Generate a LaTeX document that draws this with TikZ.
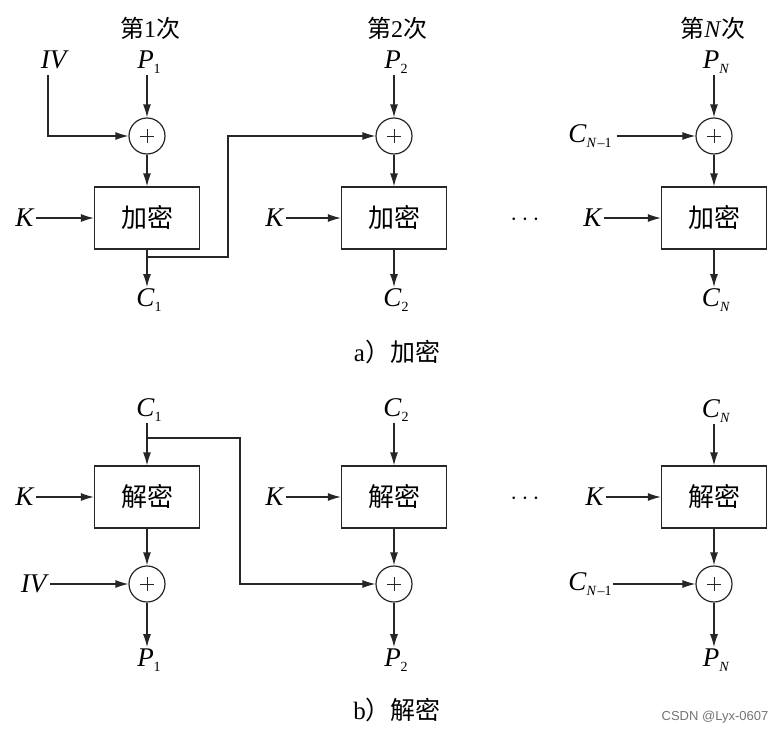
\documentclass[tikz,border=0pt]{standalone}
\usepackage{fontspec}
\setmainfont{Liberation Serif}
\newfontfamily\cjk{Noto Sans CJK SC}
\newfontfamily\wmfont{Liberation Sans}
\usetikzlibrary{arrows.meta}
\newcommand{\lb}[2]{\textit{#1}\raisebox{-0.45ex}{\fontsize{14}{14}\selectfont #2}}
\begin{document}
\begin{tikzpicture}[x=1pt,y=-1pt,
  ln/.style={line width=1.2pt,draw=black!85},
  arr/.style={ln,-{Latex[length=13pt,width=8pt]}},
  lab/.style={inner sep=1pt,font=\fontsize{27}{27}\selectfont},
  ttl/.style={inner sep=1pt,font=\fontsize{24}{24}\selectfont\cjk},
  captxt/.style={inner sep=1pt,font=\fontsize{25}{25}\selectfont},
  blk/.style={ln,rectangle,minimum width=105pt,minimum height=62pt,inner sep=0pt,font=\fontsize{26}{26}\selectfont\cjk},
  xr/.style={ln,circle,minimum size=36pt,inner sep=0pt,
    path picture={\draw[line width=0.6pt] ([xshift=-7pt]path picture bounding box.center) -- ([xshift=7pt]path picture bounding box.center);
                  \draw[line width=0.6pt] ([yshift=-7pt]path picture bounding box.center) -- ([yshift=7pt]path picture bounding box.center);}},
]
\useasboundingbox (0,0) rectangle (780,736);
% ---------------- encryption ----------------
\node[ttl] (t1) at (150,28) {第\fontspec{Liberation Serif}1\cjk 次};
\node[ttl] (t2) at (397,28) {第\fontspec{Liberation Serif}2\cjk 次};
\node[ttl] (tN) at (713,28) {第\fontspec{Liberation Serif}\textit{N}\cjk 次};

\node[lab] (iv) at (55,60) {\textit{IV}};
\coordinate (ivs) at (48,75);
\node[lab] (p1) at (149,62) {\lb{P}{1}};
\node[lab] (p2) at (396,62) {\lb{P}{2}};
\node[lab] (pN) at (716,62) {\lb{P}{\textit{N}}};

\node[xr] (x1) at (147,136) {};
\node[xr] (x2) at (394,136) {};
\node[xr] (xN) at (714,136) {};

\node[blk] (e1) at (147,218) {加密};
\node[blk] (e2) at (394,218) {加密};
\node[blk] (eN) at (714,218) {加密};

\node[lab] (k1) at (25,218) {\textit{K}};
\node[lab] (k2) at (275,218) {\textit{K}};
\node[lab] (kN) at (593,218) {\textit{K}};
\node[lab] (dA) at (525,220) {$\cdots$};

\node[lab] (cm1) at (590,136) {\lb{C}{\textit{N}\kern1pt–1}};

\node[lab] (c1) at (149,300) {\lb{C}{1}};
\node[lab] (c2) at (396,300) {\lb{C}{2}};
\node[lab] (cN) at (716,300) {\lb{C}{\textit{N}}};

\coordinate (s1) at (147,257);

\draw[arr] (x1 |- p1.south) -- (x1);
\draw[arr] (x2 |- p2.south) -- (x2);
\draw[arr] (xN |- pN.south) -- (xN);
\draw[arr] (ivs) |- (x1.west);
\draw[arr] (cm1.east) ++(4,0) -- (xN.west);
\draw[arr] (x1) -- (e1);
\draw[arr] (x2) -- (e2);
\draw[arr] (xN) -- (eN);
\draw[arr] (k1) -- (k1 -| e1.west);
\draw[arr] (k2) -- (k2 -| e2.west);
\draw[arr] (kN) -- (kN -| eN.west);
\draw[arr] (e1) -- (e1 |- c1.north);
\draw[arr] (e2) -- (e2 |- c2.north);
\draw[arr] (eN) -- (eN |- cN.north);
\draw[arr] (s1) -- ++(81,0) |- (x2.west);

\node[captxt] (capa) at (397,352) {a{\cjk ）加密}};

% ---------------- decryption ----------------
\node[lab] (dc1) at (149,410) {\lb{C}{1}};
\node[lab] (dc2) at (396,410) {\lb{C}{2}};
\node[lab] (dcN) at (716,411) {\lb{C}{\textit{N}}};

\node[blk] (d1) at (147,497) {解密};
\node[blk] (d2) at (394,497) {解密};
\node[blk] (dN) at (714,497) {解密};

\node[lab] (dk1) at (25,497) {\textit{K}};
\node[lab] (dk2) at (275,497) {\textit{K}};
\node[lab] (dkN) at (595,497) {\textit{K}};
\node[lab] (dB) at (525,499) {$\cdots$};

\node[xr] (y1) at (147,584) {};
\node[xr] (y2) at (394,584) {};
\node[xr] (yN) at (714,584) {};

\node[lab] (div) at (35,584) {\textit{IV}};
\node[lab] (dcm1) at (590,584) {\lb{C}{\textit{N}\kern1pt–1}};

\node[lab] (dp1) at (149,660) {\lb{P}{1}};
\node[lab] (dp2) at (396,660) {\lb{P}{2}};
\node[lab] (dpN) at (716,660) {\lb{P}{\textit{N}}};

\coordinate (s2) at (147,438);

\draw[arr] (d1 |- dc1.south) -- (d1);
\draw[arr] (d2 |- dc2.south) -- (d2);
\draw[arr] (dN |- dcN.south) -- (dN);
\draw[arr] (dk1) -- (dk1 -| d1.west);
\draw[arr] (dk2) -- (dk2 -| d2.west);
\draw[arr] (dkN) -- (dkN -| dN.west);
\draw[arr] (d1) -- (y1);
\draw[arr] (d2) -- (y2);
\draw[arr] (dN) -- (yN);
\draw[arr] (div) -- (div -| y1.west);
\draw[arr] (dcm1) -- (dcm1 -| yN.west);
\draw[arr] (y1) -- (y1 |- dp1.north);
\draw[arr] (y2) -- (y2 |- dp2.north);
\draw[arr] (yN) -- (yN |- dpN.north);
\draw[arr] (s2) -- ++(93,0) |- (y2.west);

\node[captxt] (capb) at (397,710) {b{\cjk ）解密}};
\node[inner sep=1pt,font=\fontsize{13}{13}\selectfont\wmfont,text=black!55] (wm) at (715,717) {CSDN @Lyx-0607};
\end{tikzpicture}
\end{document}
